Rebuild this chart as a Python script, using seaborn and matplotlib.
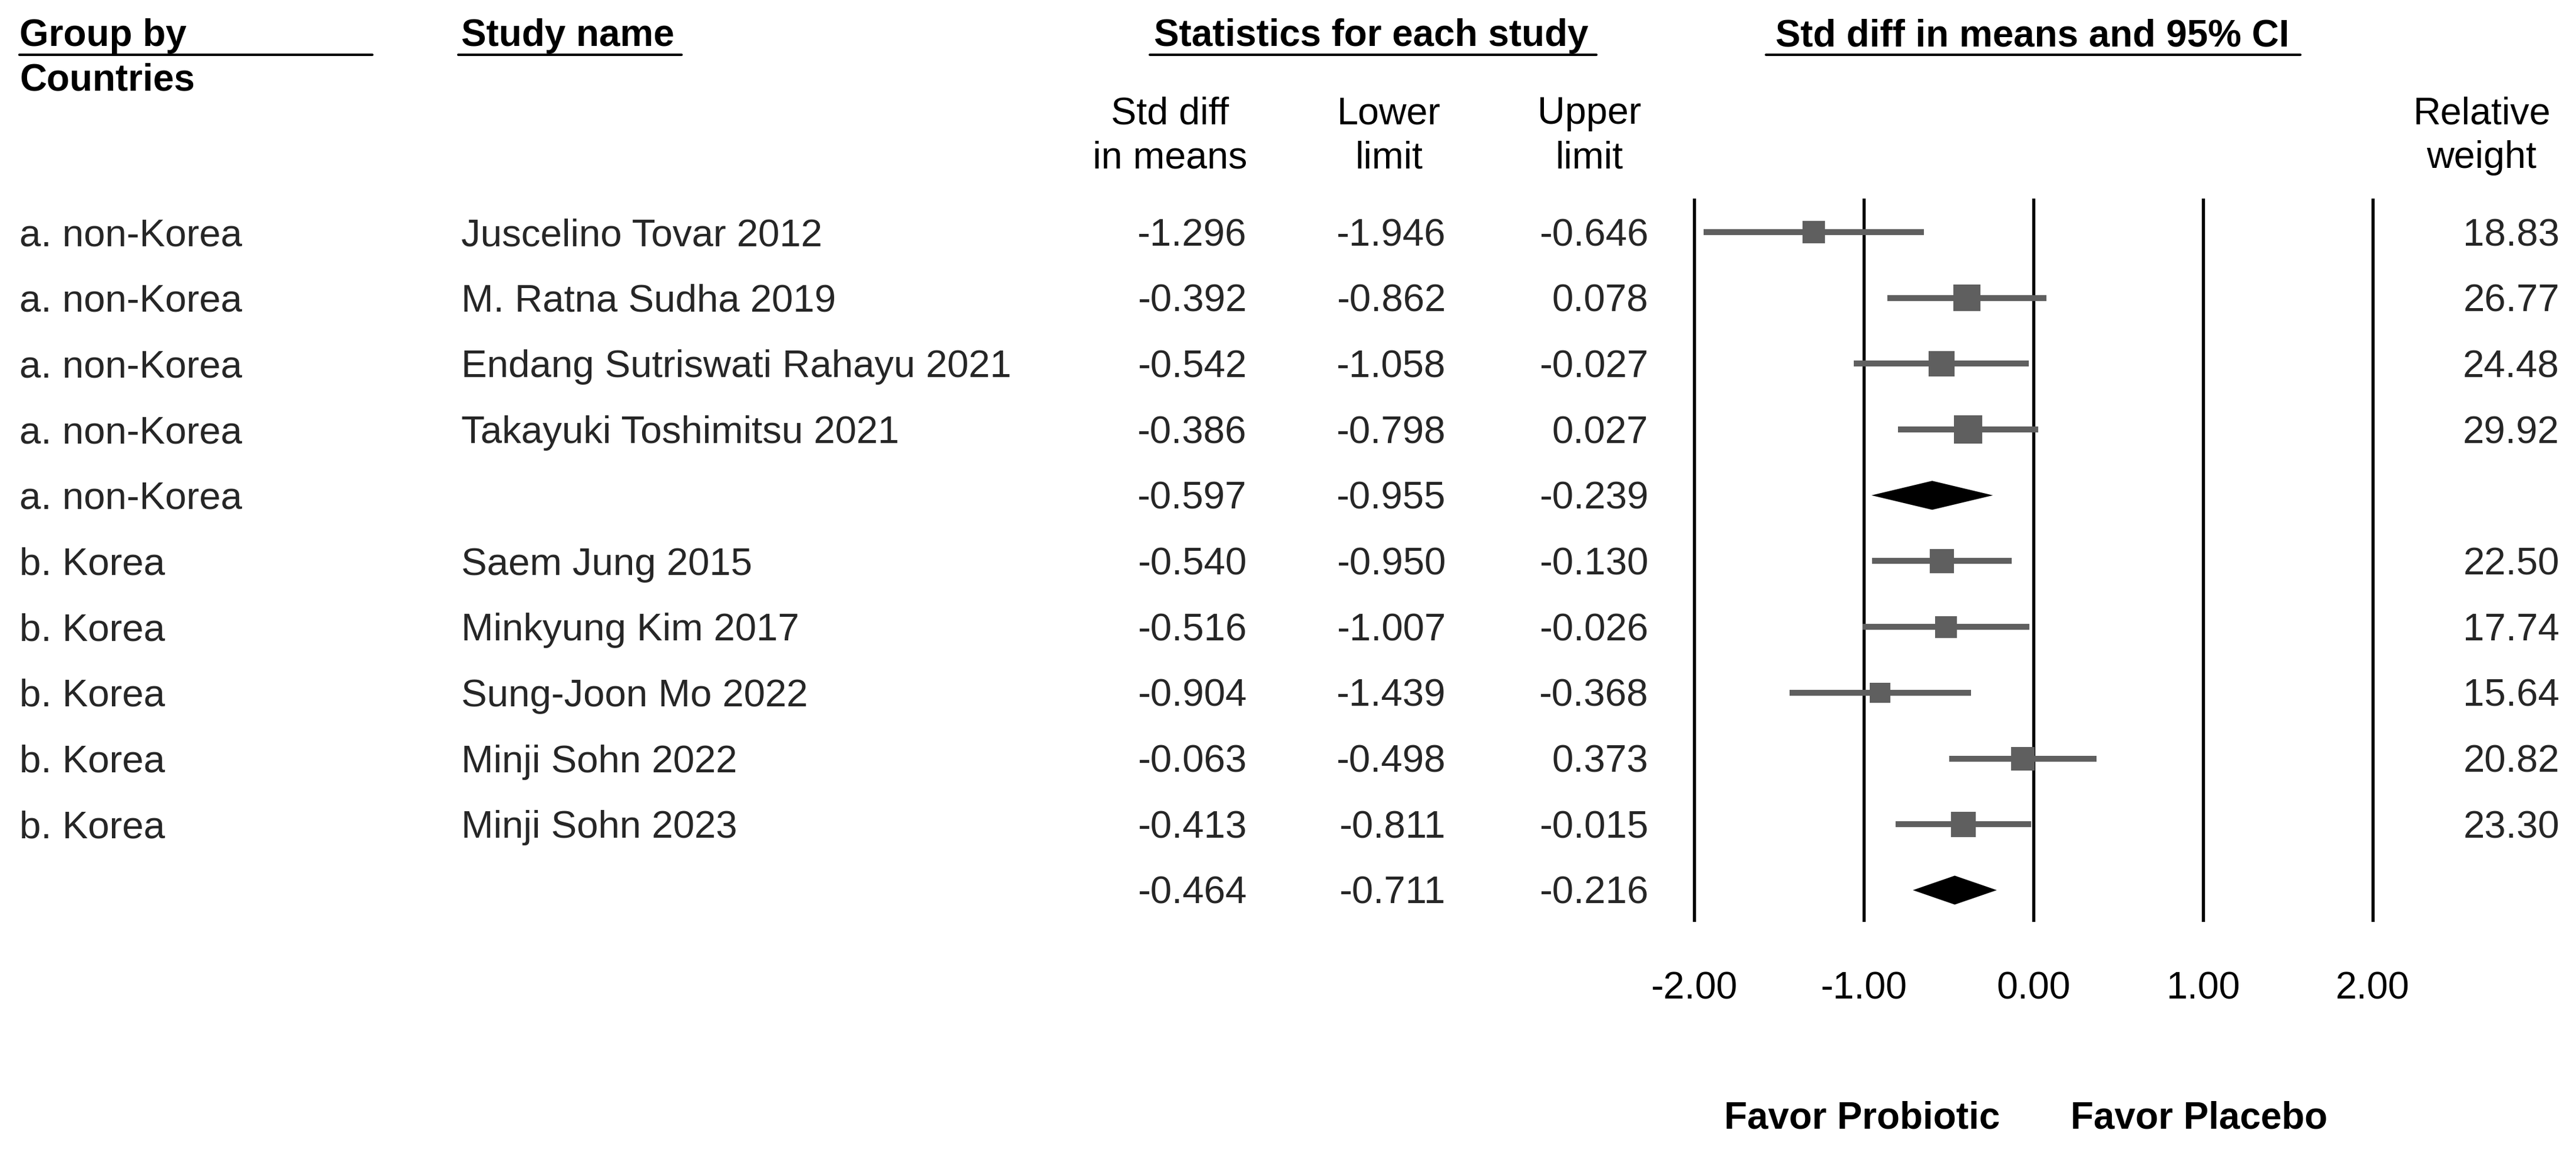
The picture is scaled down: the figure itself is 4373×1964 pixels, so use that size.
"""Forest plot: probiotic vs placebo, grouped by country."""

import numpy as np
import pandas as pd
import matplotlib
matplotlib.use("Agg")
import matplotlib.pyplot as plt
import seaborn as sns

groups = ["a. non-Korea"] * 5 + ["b. Korea"] * 5 + [""]
studies = ["Juscelino Tovar 2012", "M. Ratna Sudha 2019",
           "Endang Sutriswati Rahayu 2021", "Takayuki Toshimitsu 2021", "",
           "Saem Jung 2015", "Minkyung Kim 2017", "Sung-Joon Mo 2022",
           "Minji Sohn 2022", "Minji Sohn 2023", ""]
std_diff = [-1.296, -0.392, -0.542, -0.386, -0.597,
            -0.540, -0.516, -0.904, -0.063, -0.413, -0.464]
lower = [-1.946, -0.862, -1.058, -0.798, -0.955,
         -0.950, -1.007, -1.439, -0.498, -0.811, -0.711]
upper = [-0.646, 0.078, -0.027, 0.027, -0.239,
         -0.130, -0.026, -0.368, 0.373, -0.015, -0.216]
weights = [18.83, 26.77, 24.48, 29.92, np.nan,
           22.50, 17.74, 15.64, 20.82, 23.30, np.nan]
summary = [False, False, False, False, True,
           False, False, False, False, False, True]
ticks = [-2.0, -1.0, 0.0, 1.0, 2.0]

W, H, DPI = 4373, 1964, 300
ROW0, ROW_H = 394, 111.7
FS = 15.3       # headers / axis
FS_ROW = 15.7   # table body
GRAY = "#5f5f5f"

df = pd.DataFrame({"group": groups, "study": studies, "est": std_diff,
                   "lo": lower, "hi": upper, "weight": weights,
                   "summary": summary})
df["row"] = np.arange(len(df))

sns.set_theme(style="white")
plt.rcParams["font.family"] = ["Liberation Sans", "DejaVu Sans"]

fig = plt.figure(figsize=(W / DPI, H / DPI), dpi=DPI)
page = fig.add_axes([0, 0, 1, 1])
page.set_xlim(0, W)
page.set_ylim(H, 0)
page.axis("off")

# headers
def header(x, y, s, ha="left", bold=True, size=FS):
    page.text(x, y, s, ha=ha, va="baseline", fontsize=size,
              fontweight="bold" if bold else "normal", color="black")

header(33, 78, "Group by")
header(33, 153, "Countries")
header(783, 78, "Study name")
header(2328, 78, "Statistics for each study", ha="center")
header(3450, 78, "Std diff in means and 95% CI", ha="center")
for x0, x1 in [(33, 632), (778, 1157), (1952, 2710), (2998, 3905)]:
    page.plot([x0, x1], [93, 93], color="black", lw=1.0)

for cx, l1, l2 in [(1986, "Std diff", "in means"), (2358, "Lower", "limit"),
                   (2698, "Upper", "limit"), (4213, "Relative", "weight")]:
    header(cx, 210, l1, ha="center", bold=False, size=15.5)
    header(cx, 285, l2, ha="center", bold=False, size=15.5)

# table rows
for _, r in df.iterrows():
    y = ROW0 + ROW_H * r["row"] + 23
    page.text(33, y, r["group"], fontsize=FS_ROW, va="baseline")
    page.text(783, y, r["study"], fontsize=FS_ROW, va="baseline")
    page.text(2116, y, f"{r['est']:.3f}", fontsize=FS_ROW, va="baseline", ha="right")
    page.text(2454, y, f"{r['lo']:.3f}", fontsize=FS_ROW, va="baseline", ha="right")
    page.text(2798, y, f"{r['hi']:.3f}", fontsize=FS_ROW, va="baseline", ha="right")
    if not r["summary"]:
        page.text(4345, y, f"{r['weight']:.2f}", fontsize=FS_ROW,
                  va="baseline", ha="right")

header(3161, 1916, "Favor Probiotic", ha="center")
header(3733, 1916, "Favor Placebo", ha="center")

# forest panel
UNIT = 288
X_NEG2 = 2876
left_px = X_NEG2 - 0.3 * UNIT
right_px = X_NEG2 + 4.3 * UNIT
top_px, bot_px = 337, 1565
ax = fig.add_axes([left_px / W, 1 - bot_px / H,
                   (right_px - left_px) / W, (bot_px - top_px) / H])
ax.patch.set_alpha(0)

for t in ticks:
    ax.axvline(t, color="black", lw=1.3, zorder=1)

studies_df = df[~df["summary"]]
ax.hlines(studies_df["row"], studies_df["lo"], studies_df["hi"],
          color=GRAY, lw=2.4, zorder=2)
sns.scatterplot(data=studies_df, x="est", y="row", size="weight",
                size_norm=(0, 30), sizes=(0, 4.46 * 30), marker="s",
                color=GRAY, linewidth=0, legend=False, zorder=3, ax=ax)

h = 0.22
for _, r in df[df["summary"]].iterrows():
    ax.fill([r["lo"], r["est"], r["hi"], r["est"]],
            [r["row"], r["row"] - h, r["row"], r["row"] + h],
            color="black", lw=0, zorder=3)

ax.set_xlim(-2.3, 2.3)
ax.set_ylim((bot_px - ROW0) / ROW_H, (top_px - ROW0) / ROW_H)
ax.set_xticks(ticks)
ax.set_xticklabels([f"{t:.2f}" for t in ticks])
ax.tick_params(axis="x", length=0, pad=20, labelsize=15.5, colors="black")
ax.set_yticks([])
ax.set_xlabel("")
ax.set_ylabel("")
for sp in ax.spines.values():
    sp.set_visible(False)

fig.savefig("out.png", dpi=DPI, facecolor="white")
